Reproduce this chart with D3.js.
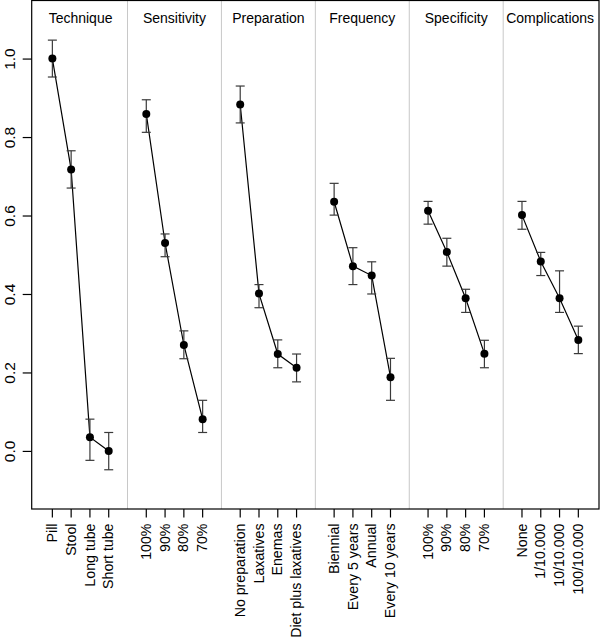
<!DOCTYPE html>
<html><head><meta charset="utf-8">
<script src="https://cdn.jsdelivr.net/npm/d3@7"></script>
<style>body{margin:0;background:#fff}svg{display:block}text{font-family:"Liberation Sans",Arial,Helvetica,sans-serif;fill:#000}</style>
</head><body>
<script>
const panels = ["Technique","Sensitivity","Preparation","Frequency","Specificity","Complications"];
const levelsTechnique = ["Pill","Stool","Long tube","Short tube"];
const levelsSensitivity = ["100%","90%","80%","70%"];
const levelsPreparation = ["No preparation","Laxatives","Enemas","Diet plus laxatives"];
const levelsFrequency = ["Biennial","Every 5 years","Annual","Every 10 years"];
const levelsSpecificity = ["100%","90%","80%","70%"];
const levelsComplications = ["None","1/10.000","10/10.000","100/10.000"];

const valTechnique = [1.000, 0.717, 0.035, 0.000];
const loTechnique  = [0.953, 0.670, -0.024, -0.048];
const hiTechnique  = [1.047, 0.765, 0.081, 0.047];
const valSensitivity = [0.859, 0.530, 0.270, 0.081];
const loSensitivity  = [0.812, 0.495, 0.235, 0.047];
const hiSensitivity  = [0.895, 0.553, 0.306, 0.129];
const valPreparation = [0.883, 0.401, 0.247, 0.212];
const loPreparation  = [0.836, 0.365, 0.212, 0.176];
const hiPreparation  = [0.930, 0.424, 0.283, 0.247];
const valFrequency = [0.635, 0.471, 0.447, 0.188];
const loFrequency  = [0.601, 0.424, 0.400, 0.129];
const hiFrequency  = [0.682, 0.518, 0.482, 0.236];
const valSpecificity = [0.612, 0.507, 0.389, 0.248];
const loSpecificity  = [0.578, 0.471, 0.353, 0.212];
const hiSpecificity  = [0.636, 0.542, 0.412, 0.282];
const valComplications = [0.601, 0.483, 0.389, 0.283];
const loComplications  = [0.565, 0.447, 0.353, 0.248];
const hiComplications  = [0.636, 0.506, 0.459, 0.318];
const yTicks = [0.0, 0.2, 0.4, 0.6, 0.8, 1.0];

const levels = [levelsTechnique, levelsSensitivity, levelsPreparation, levelsFrequency, levelsSpecificity, levelsComplications];
const vals = [valTechnique, valSensitivity, valPreparation, valFrequency, valSpecificity, valComplications];
const los = [loTechnique, loSensitivity, loPreparation, loFrequency, loSpecificity, loComplications];
const his = [hiTechnique, hiSensitivity, hiPreparation, hiFrequency, hiSpecificity, hiComplications];

const W = 600, H = 638;
const L = 31.7, R = 599, T = 0.5, B = 509;
const svg = d3.select("body").append("svg").attr("width", W).attr("height", H);
const x = d3.scaleLinear().domain([-0.1, 30.1]).range([L, R]);
const y = d3.scaleLinear().domain([-0.148, 1.148]).range([B, T]);

// build rows
const rows = [];
panels.forEach((p, i) => {
  levels[i].forEach((lv, j) => {
    rows.push({panel: i, pos: i * 5 + j + 1, label: lv, v: vals[i][j], lo: los[i][j], hi: his[i][j]});
  });
});

// dividers
svg.selectAll("line.div").data(d3.range(1, panels.length)).enter().append("line")
  .attr("x1", d => x(d * 5)).attr("x2", d => x(d * 5))
  .attr("y1", T).attr("y2", B).attr("stroke", "#c8c8c8").attr("stroke-width", 1);

// titles
svg.selectAll("text.title").data(panels).enter().append("text")
  .attr("x", (d, i) => x(i * 5 + 2.5)).attr("y", 22.5)
  .attr("text-anchor", "middle").attr("font-size", 14).text(d => d);

// connecting lines
const line = d3.line().x(d => x(d.pos)).y(d => y(d.v));
panels.forEach((p, i) => {
  svg.append("path").datum(rows.filter(r => r.panel === i))
    .attr("d", line).attr("fill", "none").attr("stroke", "#000").attr("stroke-width", 1.2);
});

// error bars
const eb = svg.selectAll("g.eb").data(rows).enter().append("g").attr("stroke", "#3a3a3a").attr("stroke-width", 1.2);
eb.append("line").attr("x1", d => x(d.pos)).attr("x2", d => x(d.pos)).attr("y1", d => y(d.lo)).attr("y2", d => y(d.hi));
eb.append("line").attr("x1", d => x(d.pos) - 4.5).attr("x2", d => x(d.pos) + 4.5).attr("y1", d => y(d.lo)).attr("y2", d => y(d.lo));
eb.append("line").attr("x1", d => x(d.pos) - 4.5).attr("x2", d => x(d.pos) + 4.5).attr("y1", d => y(d.hi)).attr("y2", d => y(d.hi));

// points
svg.selectAll("circle").data(rows).enter().append("circle")
  .attr("cx", d => x(d.pos)).attr("cy", d => y(d.v)).attr("r", 4).attr("fill", "#000");

// box
svg.append("rect").attr("x", L).attr("y", T).attr("width", R - L).attr("height", B - T)
  .attr("fill", "none").attr("stroke", "#000").attr("stroke-width", 1.2);

// y axis
const yAxis = svg.append("g").attr("transform", `translate(${L},0)`)
  .call(d3.axisLeft(y).tickValues(yTicks).tickFormat(d3.format(".1f")).tickSize(9).tickSizeOuter(0));
yAxis.select(".domain").remove();
yAxis.selectAll(".tick line").attr("stroke", "#000").attr("stroke-width", 1.2);
yAxis.selectAll(".tick text").attr("font-size", 15.5)
  .attr("font-family", '"Liberation Sans",Arial,Helvetica,sans-serif')
  .attr("transform", "rotate(-90)")
  .attr("x", 0).attr("y", 0).attr("dx", 0)
  .attr("text-anchor", "middle")
  .attr("dy", null)
  .each(function(){
    // position: rotated text centred at tick, baseline at x = -16.5
    d3.select(this).attr("transform", "translate(-16.7,0) rotate(-90)");
  });

// x ticks and labels
const xg = svg.append("g");
xg.selectAll("line").data(rows).enter().append("line")
  .attr("x1", d => x(d.pos)).attr("x2", d => x(d.pos))
  .attr("y1", B).attr("y2", B + 8.5).attr("stroke", "#000").attr("stroke-width", 1.2);
xg.selectAll("text").data(rows).enter().append("text")
  .attr("transform", d => `translate(${x(d.pos) + 4.6},${B + 14.5}) rotate(-90)`)
  .attr("text-anchor", "end").attr("font-size", 14.2).text(d => d.label);
</script>
</body></html>
